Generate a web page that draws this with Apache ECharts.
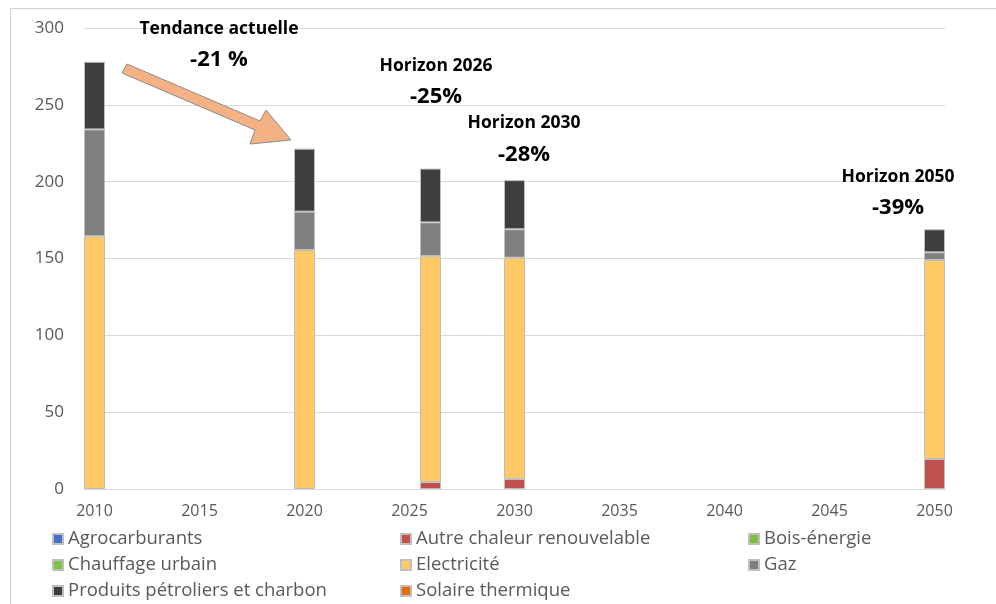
<!DOCTYPE html>
<html lang="fr">
<head>
<meta charset="utf-8">
<title>Consommation d'énergie finale par source</title>
<script src="https://cdn.jsdelivr.net/npm/echarts@6/dist/echarts.min.js"></script>
<style>
  html, body { margin: 0; padding: 0; background: #ffffff; }
  #chart { width: 996px; height: 604px; }
</style>
</head>
<body>
<div id="chart"></div>
<script>
// Years shown on the horizontal axis (one category per year, labelled every 5 years)
const firstYear = 2010;
const lastYear = 2050;
const axisYears = [];
for (let y = firstYear; y <= lastYear; y++) axisYears.push(String(y));

// Years for which a bar is drawn
const barYears = ['2010', '2020', '2026', '2030', '2050'];

// Consumption by source, one value per bar year
const agrocarburants   = [0, 0, 0, 0, 0];
const autreChaleur     = [0, 0, 4.5, 6.5, 19.5];
const boisEnergie      = [0, 0, 0, 0, 0];
const chauffageUrbain  = [0, 0, 0, 0, 0];
const electricite      = [164.5, 155.5, 147, 144, 129.5];
const gaz              = [69.5, 25, 22, 18.5, 5];
const produitsPetrol   = [44, 41, 35, 32, 15];
const solaireThermique = [0, 0, 0, 0, 0];

// Y axis ticks
const yTicks = [0, 50, 100, 150, 200, 250, 300];

// Scenario annotations
const annotations = [
  { title: 'Tendance actuelle', pct: '-21 %', x: 219, yTitle: 29, yPct: 60 },
  { title: 'Horizon 2026', pct: '-25%', x: 436, yTitle: 66, yPct: 97 },
  { title: 'Horizon 2030', pct: '-28%', x: 524, yTitle: 123, yPct: 155 },
  { title: 'Horizon 2050', pct: '-39%', x: 898, yTitle: 177, yPct: 208 }
];

const FONT = '"Open Sans", "DejaVu Sans", sans-serif';
const TEXT = '#595959';

const sources = [
  { name: 'Agrocarburants', values: agrocarburants, color: '#4472C4' },
  { name: 'Autre chaleur renouvelable', values: autreChaleur, color: '#C0504D' },
  { name: 'Bois-énergie', values: boisEnergie, color: '#7EC13F' },
  { name: 'Chauffage urbain', values: chauffageUrbain, color: '#7EC13F',
    decal: { symbol: 'rect', symbolSize: 0.35, color: 'rgba(255,255,255,0.8)', dashArrayX: [2, 2], dashArrayY: [2, 2] } },
  { name: 'Electricité', values: electricite, color: '#FFCA65' },
  { name: 'Gaz', values: gaz, color: '#7F7F7F' },
  { name: 'Produits pétroliers et charbon', values: produitsPetrol, color: '#3E3E3E' },
  { name: 'Solaire thermique', values: solaireThermique, color: '#E46C0A' }
];

const series = sources.map(s => ({
  name: s.name,
  type: 'bar',
  stack: 'total',
  barWidth: '100%',
  itemStyle: Object.assign({ color: s.color, borderColor: '#BFBFBF', borderWidth: 1 },
    s.decal ? { decal: s.decal } : {}),
  emphasis: { disabled: true },
  data: barYears.map((yr, i) => [yr, s.values[i] === 0 ? '-' : s.values[i]])
}));

// Legend: three columns, three rows; one legend entry per cell
const legendRows = [
  ['Agrocarburants', 'Autre chaleur renouvelable', 'Bois-énergie'],
  ['Chauffage urbain', 'Electricité', 'Gaz'],
  ['Produits pétroliers et charbon', 'Solaire thermique']
];
const columnLeft = [52, 400, 748];
const rowTop = [529, 555, 581];
const legends = [];
legendRows.forEach((row, r) => {
  row.forEach((name, c) => {
    legends.push({
      data: [name],
      orient: 'horizontal',
      left: columnLeft[c],
      top: rowTop[r],
      padding: 0,
      itemWidth: 10,
      itemHeight: 10,
      selectedMode: false,
      icon: 'rect',
      textStyle: { fontFamily: FONT, fontSize: 18.5, color: TEXT, lineHeight: 20 }
    });
  });
});

// Arrow between the 2010 and 2020 bars
const arrowPoints = [
  [122, 73], [127, 64], [260, 121], [266, 110], [291, 140], [250, 144], [255, 130]
];

const graphics = [
  {
    type: 'rect', silent: true, z: -10,
    shape: { x: 10.5, y: 8.5, width: 1000, height: 700 },
    style: { fill: 'none', stroke: '#D0D0D0', lineWidth: 1 }
  },
  {
    type: 'polygon', z: 50,
    shape: { points: arrowPoints },
    style: { fill: '#F4B183', stroke: '#8C8C8C', lineWidth: 1 }
  }
];
annotations.forEach(a => {
  graphics.push({
    type: 'text', z: 60, x: a.x, y: a.yTitle,
    style: { text: a.title, fontFamily: FONT, fontWeight: 'bold', fontSize: 17.5,
      fill: '#000000', align: 'center', verticalAlign: 'middle' }
  });
  graphics.push({
    type: 'text', z: 60, x: a.x, y: a.yPct,
    style: { text: a.pct, fontFamily: FONT, fontWeight: 'bold', fontSize: 22,
      fill: '#000000', align: 'center', verticalAlign: 'middle' }
  });
});

const chart = echarts.init(document.getElementById('chart'), null, { renderer: 'canvas' });
chart.setOption({
  animation: false,
  backgroundColor: '#ffffff',
  grid: { left: 84, right: 51, top: 28, bottom: 115, containLabel: false },
  xAxis: {
    type: 'category',
    data: axisYears,
    boundaryGap: true,
    axisTick: { show: false },
    axisLine: { show: true, lineStyle: { color: '#D9D9D9', width: 1 } },
    axisLabel: { interval: 4, fontFamily: FONT, fontSize: 16, color: TEXT, margin: 14 },
    splitLine: { show: false }
  },
  yAxis: {
    type: 'value',
    min: yTicks[0],
    max: yTicks[yTicks.length - 1],
    interval: yTicks[1] - yTicks[0],
    axisLine: { show: false },
    axisTick: { show: false },
    axisLabel: { fontFamily: FONT, fontSize: 17, color: TEXT, margin: 20 },
    splitLine: { lineStyle: { color: '#D9D9D9', width: 1 } }
  },
  legend: legends,
  series: series,
  graphic: graphics
});
</script>
</body>
</html>
